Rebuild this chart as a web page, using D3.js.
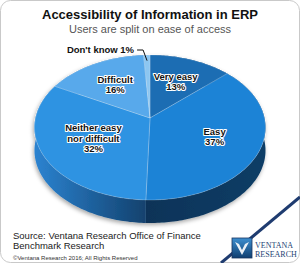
<!DOCTYPE html>
<html>
<head>
<meta charset="utf-8">
<script src="https://cdn.jsdelivr.net/npm/d3@7"></script>
<style>
  body { margin: 0; background: #fff; }
  svg { display: block; }
</style>
</head>
<body>
<svg id="chart"></svg>
<script>
// data
const categories = ["Very easy", "Easy", "Neither easy nor difficult", "Difficult", "Don't know"];
const values = [13, 37, 32, 16, 1];
const labelLines = [["Very easy", "13%"], ["Easy", "37%"], ["Neither easy", "nor difficult", "32%"], ["Difficult", "16%"], ["Don't know 1%"]];
const title = "Accessibility of Information in ERP";
const subtitle = "Users are split on ease of access";
const sourceLines = ["Source: Ventana Research Office of Finance", "Benchmark Research"];
const copyright = "©Ventana Research 2016; All Rights Reserved";

const W = 300, H = 263;
const topColors = ["#1b6db3", "#1e83d6", "#2f93e2", "#58a9eb", "#8cc6f1"];

const svg = d3.select("#chart").attr("width", W).attr("height", H);
const defs = svg.append("defs");

// frame
svg.append("rect")
    .attr("x", 0.5).attr("y", 0.5)
    .attr("width", W - 1).attr("height", H - 1)
    .attr("rx", 10)
    .attr("fill", "#fff")
    .attr("stroke", "#c9c9c9");

// titles
svg.append("text")
    .attr("x", W / 2).attr("y", 19)
    .attr("text-anchor", "middle")
    .attr("font-family", "Liberation Sans, Arial, sans-serif")
    .attr("font-weight", "bold")
    .attr("font-size", 13)
    .attr("textLength", 216).attr("lengthAdjust", "spacingAndGlyphs")
    .attr("fill", "#111")
    .text(title);
svg.append("text")
    .attr("x", W / 2).attr("y", 32.5)
    .attr("text-anchor", "middle")
    .attr("font-family", "Liberation Sans, Arial, sans-serif")
    .attr("font-size", 10.5)
    .attr("textLength", 162).attr("lengthAdjust", "spacingAndGlyphs")
    .attr("fill", "#555")
    .text(subtitle);

// tilted pie: circle in a plane seen in perspective
const cx = 150, cy = 118, A = 114.5, B = 71.25, K = 0.131, D = 23;
function proj(t, r = 1) {
    const u = r * Math.sin(t), v = -r * Math.cos(t);
    const w = 1 - K * v;
    return [cx + A * u / w, cy + B * v / w];
}
function arcPoints(a0, a1) {
    const n = Math.max(2, Math.ceil((a1 - a0) / (Math.PI / 180)));
    return d3.range(n + 1).map(i => proj(a0 + (a1 - a0) * i / n));
}

const pie = d3.pie().sort(null).value(d => d)(values);

// drop shadow
const shadow = defs.append("filter").attr("id", "shadow")
    .attr("x", "-20%").attr("y", "-20%").attr("width", "140%").attr("height", "140%");
shadow.append("feDropShadow")
    .attr("dx", -1).attr("dy", 2).attr("stdDeviation", 2)
    .attr("flood-color", "#000").attr("flood-opacity", 0.35);

// side shading: [from x, to x, from colour, to colour]
const sideShade = [
    [150, 265, "#0f4a80", "#0c3c68"],
    [146, 265, "#0b3358", "#0e3d66"],
    [36, 150, "#2b82cf", "#123f6a"],
    [36, 150, "#3f8fd0", "#2a6eaa"],
    [36, 150, "#5aa0d8", "#3d80bc"]
];
sideShade.forEach((c, i) => {
    const g = defs.append("linearGradient").attr("id", "side" + i)
        .attr("gradientUnits", "userSpaceOnUse")
        .attr("x1", c[0]).attr("x2", c[1]).attr("y1", 0).attr("y2", 0);
    g.append("stop").attr("offset", "0%").attr("stop-color", c[2]);
    g.append("stop").attr("offset", "100%").attr("stop-color", c[3]);
});

const pieG = svg.append("g").attr("filter", "url(#shadow)");

// sides
pieG.selectAll("path.side").data(pie).enter()
    .append("path")
    .attr("class", "side")
    .attr("fill", (d, i) => `url(#side${i})`)
    .attr("d", d => {
        const pts = arcPoints(d.startAngle, d.endAngle);
        const low = pts.slice().reverse().map(p => [p[0], p[1] + D]);
        return d3.line()(pts.concat(low)) + "Z";
    });

// top faces
pieG.selectAll("path.top").data(pie).enter()
    .append("path")
    .attr("class", "top")
    .attr("fill", (d, i) => topColors[i])
    .attr("stroke", "rgba(255,255,255,0.35)")
    .attr("stroke-width", 0.6)
    .attr("d", d => d3.line()([[cx, cy]].concat(arcPoints(d.startAngle, d.endAngle))) + "Z");

// labels
const labelR = [0.6, 0.6, 0.55, 0.6];
const lineH = 10.5;
pie.forEach((d, i) => {
    if (i === 4) return;
    const mid = (d.startAngle + d.endAngle) / 2;
    const [lx, ly] = proj(mid, labelR[i]);
    const lines = labelLines[i];
    const t = svg.append("text")
        .attr("text-anchor", "middle")
        .attr("font-family", "Liberation Sans, Arial, sans-serif")
        .attr("font-weight", "bold")
        .attr("font-size", 9.5)
        .attr("fill", "#111")
        .attr("stroke", "#fff").attr("stroke-width", 2.2)
        .attr("stroke-linejoin", "round")
        .attr("paint-order", "stroke");
    lines.forEach((s, j) => {
        t.append("tspan")
            .attr("x", lx)
            .attr("y", ly + (j - (lines.length - 1) / 2) * lineH + 3.5)
            .text(s);
    });
});

// outside label with leader line
{
    const d = pie[4];
    const mid = (d.startAngle + d.endAngle) / 2;
    const [px, py] = proj(mid, 0.9);
    const elbow = [px - 4, 50], end = [px - 10, 50];
    svg.append("path")
        .attr("d", d3.line()([[px, py], elbow, end]))
        .attr("fill", "none").attr("stroke", "#111").attr("stroke-width", 1);
    svg.append("text")
        .attr("x", end[0] - 3).attr("y", 52.5)
        .attr("text-anchor", "end")
        .attr("font-family", "Liberation Sans, Arial, sans-serif")
        .attr("font-weight", "bold")
        .attr("font-size", 9.5)
        .attr("fill", "#111")
        .text(labelLines[4][0]);
}

// footer
svg.selectAll("text.src").data(sourceLines).enter()
    .append("text")
    .attr("class", "src")
    .attr("x", 13).attr("y", (d, i) => 239 + i * 9.5)
    .attr("font-family", "Liberation Sans, Arial, sans-serif")
    .attr("font-size", 9.5)
    .attr("fill", "#222")
    .text(d => d);
svg.append("text")
    .attr("x", 13).attr("y", 259.5)
    .attr("font-family", "Liberation Sans, Arial, sans-serif")
    .attr("font-size", 6)
    .attr("fill", "#333")
    .text(copyright);

// stripe + logo
svg.append("line")
    .attr("x1", 221).attr("y1", 263).attr("x2", 300).attr("y2", 197)
    .attr("stroke", "#1f3c70").attr("stroke-width", 3);

const lg = defs.append("linearGradient").attr("id", "logo")
    .attr("x1", 0).attr("y1", 0).attr("x2", 0).attr("y2", 1);
lg.append("stop").attr("offset", "0%").attr("stop-color", "#3d8fd0");
lg.append("stop").attr("offset", "100%").attr("stop-color", "#0f3e70");
svg.append("rect")
    .attr("x", 232).attr("y", 238).attr("width", 20).attr("height", 20)
    .attr("fill", "url(#logo)").attr("stroke", "#1a3560").attr("stroke-width", 0.8);
svg.append("path")
    .attr("d", "M235,242 L242,255 L249,242 L245,244 L242,250 L239,244 Z")
    .attr("fill", "#fff").attr("opacity", 0.9);
svg.append("text")
    .attr("x", 255).attr("y", 248)
    .attr("font-family", "Liberation Serif, serif")
    .attr("font-size", 8).attr("fill", "#1d3f73")
    .text("VENTANA");
svg.append("text")
    .attr("x", 255).attr("y", 257)
    .attr("font-family", "Liberation Serif, serif")
    .attr("font-size", 8).attr("fill", "#1d3f73")
    .text("RESEARCH");
</script>
</body>
</html>
